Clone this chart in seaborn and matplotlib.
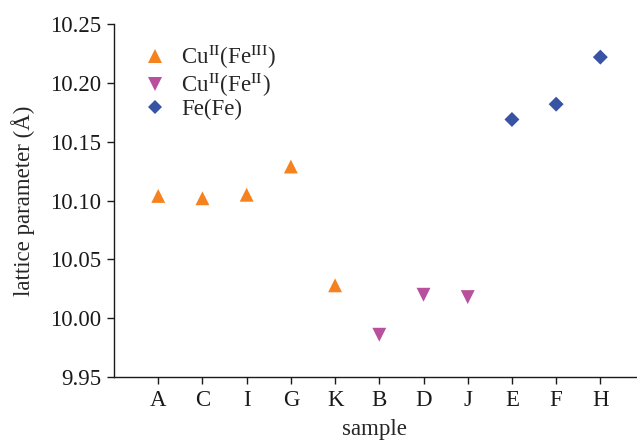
import pandas as pd
import matplotlib
matplotlib.use("Agg")
import matplotlib.pyplot as plt
import seaborn as sns

# samples in plotting order and their lattice parameters (Å)
samples = ["A", "C", "I", "G", "K", "B", "D", "J", "E", "F", "H"]
lattice = [10.104, 10.102, 10.105, 10.129, 10.028, 9.986, 10.020, 10.018, 10.169, 10.182, 10.222]
groups = ["CuFe3", "CuFe3", "CuFe3", "CuFe3", "CuFe3",
          "CuFe2", "CuFe2", "CuFe2",
          "FeFe", "FeFe", "FeFe"]

series_labels = {
    "CuFe3": r"Cu$^{\mathrm{II}}$(Fe$^{\mathrm{III}}$)",
    "CuFe2": r"Cu$^{\mathrm{II}}$(Fe$^{\mathrm{II}}$)",
    "FeFe": "Fe(Fe)",
}
colors = {"CuFe3": "#f5821f", "CuFe2": "#b8509e", "FeFe": "#3853a4"}
markers = {"CuFe3": "^", "CuFe2": "v", "FeFe": "D"}
msize = {"CuFe3": 100, "CuFe2": 100, "FeFe": 58}

df = pd.DataFrame({"sample": samples, "lattice": lattice, "group": groups})
df["series"] = df["group"].map(series_labels)

sns.set_style("ticks")
plt.rcParams["font.family"] = ["Liberation Serif", "DejaVu Serif"]
plt.rcParams["mathtext.fontset"] = "stix"

fig = plt.figure(figsize=(6.37, 4.4), dpi=100)
ax = fig.add_axes([0.179, 0.143, 0.819, 0.802])

pal = {series_labels[k]: v for k, v in colors.items()}
mk = {series_labels[k]: v for k, v in markers.items()}
sz = {series_labels[k]: v for k, v in msize.items()}
sns.scatterplot(data=df, x="sample", y="lattice", hue="series", style="series",
                size="series", sizes=sz, palette=pal, markers=mk, linewidth=0, ax=ax)

ax.set_xlim(-1, 10.8)
ax.set_ylim(9.95, 10.25)
ax.set_yticks([9.95, 10.00, 10.05, 10.10, 10.15, 10.20, 10.25])
ax.set_yticklabels(["9.95", "10.00", "10.05", "10.10", "10.15", "10.20", "10.25"])
ax.set_xlabel("sample", fontsize=16.5, labelpad=6)
ax.set_ylabel("lattice parameter (Å)", fontsize=16.5, labelpad=11)
ax.tick_params(axis="both", labelsize=16.5, direction="out", length=5, width=1,
               colors="#1a1a1a", pad=4)
for side in ["left", "bottom"]:
    ax.spines[side].set_linewidth(1)
    ax.spines[side].set_color("#1a1a1a")
sns.despine(ax=ax)

sns.move_legend(ax, "upper left", bbox_to_anchor=(-0.005, 1.005), title=None, frameon=False,
                fontsize=16.5, handletextpad=0.15, labelspacing=0.0, markerscale=1.0)

plt.savefig("out.png", dpi=100)
